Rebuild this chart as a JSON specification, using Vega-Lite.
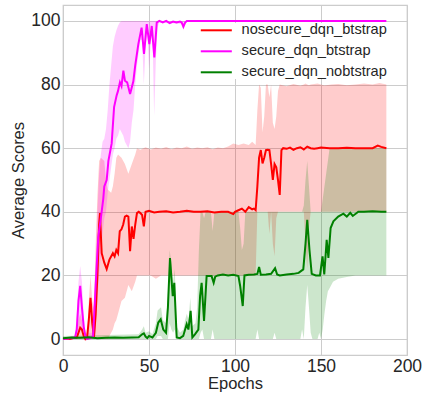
{
  "$schema": "https://vega.github.io/schema/vega-lite/v6.json",
  "width": 344,
  "height": 350,
  "autosize": {"type": "none"},
  "padding": {"left": 63, "top": 5, "right": 17, "bottom": 39},
  "config": {
    "font": "Liberation Sans",
    "view": {"stroke": "#cccccc", "strokeWidth": 1.25},
    "axis": {"domain": false, "ticks": false, "gridColor": "#cccccc", "gridWidth": 1, "labelFontSize": 17.5, "labelColor": "#262626", "titleFontSize": 16.5, "titleColor": "#262626", "titleFontWeight": "normal", "labelFlush": false},
    "legend": {"orient": "none", "legendX": 146, "legendY": 18, "symbolType": "M-3,0H3", "symbolSize": 107, "symbolStrokeWidth": 2, "labelFontSize": 14.6, "labelColor": "#262626", "labelOffset": 18, "rowPadding": 6, "fillColor": "white", "padding": 0, "labelLimit": 300}
  },
  "resolve": {"legend": {"color": "independent"}},
  "datasets": {
    "bands": [
      {"series":"nosecure_dqn_btstrap","epoch":0,"lo":0,"hi":0.5},{"series":"nosecure_dqn_btstrap","epoch":8,"lo":0,"hi":0.8},{"series":"nosecure_dqn_btstrap","epoch":9,"lo":0,"hi":6},{"series":"nosecure_dqn_btstrap","epoch":10,"lo":0,"hi":8},{"series":"nosecure_dqn_btstrap","epoch":11,"lo":0,"hi":6},{"series":"nosecure_dqn_btstrap","epoch":12,"lo":0,"hi":1.5},{"series":"nosecure_dqn_btstrap","epoch":14,"lo":0,"hi":1.5},{"series":"nosecure_dqn_btstrap","epoch":15,"lo":0,"hi":12},{"series":"nosecure_dqn_btstrap","epoch":16,"lo":0,"hi":20},{"series":"nosecure_dqn_btstrap","epoch":17,"lo":0,"hi":12},{"series":"nosecure_dqn_btstrap","epoch":18,"lo":0,"hi":10},{"series":"nosecure_dqn_btstrap","epoch":19,"lo":0,"hi":30},{"series":"nosecure_dqn_btstrap","epoch":20,"lo":0,"hi":45},{"series":"nosecure_dqn_btstrap","epoch":21,"lo":0,"hi":56},{"series":"nosecure_dqn_btstrap","epoch":22,"lo":0,"hi":57},{"series":"nosecure_dqn_btstrap","epoch":24,"lo":0,"hi":56},{"series":"nosecure_dqn_btstrap","epoch":25,"lo":0,"hi":50},{"series":"nosecure_dqn_btstrap","epoch":26,"lo":0,"hi":47},{"series":"nosecure_dqn_btstrap","epoch":28,"lo":2,"hi":46},{"series":"nosecure_dqn_btstrap","epoch":29,"lo":3,"hi":48},{"series":"nosecure_dqn_btstrap","epoch":30,"lo":5,"hi":52},{"series":"nosecure_dqn_btstrap","epoch":31,"lo":6,"hi":57},{"series":"nosecure_dqn_btstrap","epoch":32,"lo":8,"hi":58},{"series":"nosecure_dqn_btstrap","epoch":34,"lo":12,"hi":57},{"series":"nosecure_dqn_btstrap","epoch":36,"lo":13,"hi":55},{"series":"nosecure_dqn_btstrap","epoch":38,"lo":17,"hi":52},{"series":"nosecure_dqn_btstrap","epoch":40,"lo":15,"hi":55},{"series":"nosecure_dqn_btstrap","epoch":42,"lo":18,"hi":58},{"series":"nosecure_dqn_btstrap","epoch":43,"lo":20,"hi":60},{"series":"nosecure_dqn_btstrap","epoch":45,"lo":20,"hi":59.5},{"series":"nosecure_dqn_btstrap","epoch":48,"lo":20,"hi":60.3},{"series":"nosecure_dqn_btstrap","epoch":51,"lo":20,"hi":59.6},{"series":"nosecure_dqn_btstrap","epoch":54,"lo":19,"hi":60.2},{"series":"nosecure_dqn_btstrap","epoch":57,"lo":20,"hi":59.8},{"series":"nosecure_dqn_btstrap","epoch":60,"lo":20,"hi":60.4},{"series":"nosecure_dqn_btstrap","epoch":63,"lo":20,"hi":59.7},{"series":"nosecure_dqn_btstrap","epoch":66,"lo":20,"hi":60.2},{"series":"nosecure_dqn_btstrap","epoch":69,"lo":20,"hi":60},{"series":"nosecure_dqn_btstrap","epoch":72,"lo":20,"hi":60.5},{"series":"nosecure_dqn_btstrap","epoch":75,"lo":20,"hi":59.8},{"series":"nosecure_dqn_btstrap","epoch":78,"lo":20,"hi":60.2},{"series":"nosecure_dqn_btstrap","epoch":81,"lo":20,"hi":60},{"series":"nosecure_dqn_btstrap","epoch":84,"lo":20,"hi":60.3},{"series":"nosecure_dqn_btstrap","epoch":87,"lo":20,"hi":59.7},{"series":"nosecure_dqn_btstrap","epoch":90,"lo":20,"hi":60.2},{"series":"nosecure_dqn_btstrap","epoch":93,"lo":20,"hi":60},{"series":"nosecure_dqn_btstrap","epoch":96,"lo":20,"hi":60.5},{"series":"nosecure_dqn_btstrap","epoch":99,"lo":20,"hi":61.5},{"series":"nosecure_dqn_btstrap","epoch":102,"lo":20,"hi":61},{"series":"nosecure_dqn_btstrap","epoch":105,"lo":20,"hi":61.5},{"series":"nosecure_dqn_btstrap","epoch":108,"lo":20,"hi":61},{"series":"nosecure_dqn_btstrap","epoch":110,"lo":20,"hi":62},{"series":"nosecure_dqn_btstrap","epoch":112,"lo":20,"hi":61},{"series":"nosecure_dqn_btstrap","epoch":113,"lo":40,"hi":72},{"series":"nosecure_dqn_btstrap","epoch":114,"lo":40,"hi":80},{"series":"nosecure_dqn_btstrap","epoch":115,"lo":40,"hi":79},{"series":"nosecure_dqn_btstrap","epoch":116,"lo":40,"hi":65},{"series":"nosecure_dqn_btstrap","epoch":117,"lo":40,"hi":70},{"series":"nosecure_dqn_btstrap","epoch":118,"lo":40,"hi":80},{"series":"nosecure_dqn_btstrap","epoch":119,"lo":40,"hi":80},{"series":"nosecure_dqn_btstrap","epoch":120,"lo":33,"hi":76},{"series":"nosecure_dqn_btstrap","epoch":121,"lo":40,"hi":80},{"series":"nosecure_dqn_btstrap","epoch":122,"lo":30,"hi":68},{"series":"nosecure_dqn_btstrap","epoch":123,"lo":26,"hi":66},{"series":"nosecure_dqn_btstrap","epoch":124,"lo":38,"hi":70},{"series":"nosecure_dqn_btstrap","epoch":125,"lo":40,"hi":78},{"series":"nosecure_dqn_btstrap","epoch":126,"lo":40,"hi":80},{"series":"nosecure_dqn_btstrap","epoch":130,"lo":40,"hi":79.5},{"series":"nosecure_dqn_btstrap","epoch":134,"lo":40,"hi":80.2},{"series":"nosecure_dqn_btstrap","epoch":138,"lo":40,"hi":79.6},{"series":"nosecure_dqn_btstrap","epoch":140,"lo":40,"hi":80},{"series":"nosecure_dqn_btstrap","epoch":141,"lo":30,"hi":80.3},{"series":"nosecure_dqn_btstrap","epoch":142,"lo":22,"hi":80},{"series":"nosecure_dqn_btstrap","epoch":143,"lo":35,"hi":79.8},{"series":"nosecure_dqn_btstrap","epoch":144,"lo":40,"hi":80},{"series":"nosecure_dqn_btstrap","epoch":148,"lo":40,"hi":80.3},{"series":"nosecure_dqn_btstrap","epoch":152,"lo":40,"hi":79.7},{"series":"nosecure_dqn_btstrap","epoch":156,"lo":40,"hi":80},{"series":"nosecure_dqn_btstrap","epoch":160,"lo":40,"hi":80.2},{"series":"nosecure_dqn_btstrap","epoch":165,"lo":40,"hi":79.8},{"series":"nosecure_dqn_btstrap","epoch":170,"lo":40,"hi":80},{"series":"nosecure_dqn_btstrap","epoch":175,"lo":40,"hi":80.3},{"series":"nosecure_dqn_btstrap","epoch":180,"lo":40,"hi":80},{"series":"nosecure_dqn_btstrap","epoch":184,"lo":40,"hi":80.5},{"series":"nosecure_dqn_btstrap","epoch":188,"lo":40,"hi":80},
      {"series":"secure_dqn_btstrap","epoch":0,"lo":0,"hi":0.5},{"series":"secure_dqn_btstrap","epoch":7,"lo":0,"hi":1},{"series":"secure_dqn_btstrap","epoch":8,"lo":0.5,"hi":8},{"series":"secure_dqn_btstrap","epoch":9,"lo":2,"hi":18},{"series":"secure_dqn_btstrap","epoch":10,"lo":5,"hi":23},{"series":"secure_dqn_btstrap","epoch":11,"lo":3,"hi":18},{"series":"secure_dqn_btstrap","epoch":12,"lo":0.5,"hi":8},{"series":"secure_dqn_btstrap","epoch":13,"lo":0,"hi":2},{"series":"secure_dqn_btstrap","epoch":17,"lo":0,"hi":2},{"series":"secure_dqn_btstrap","epoch":18,"lo":0,"hi":8},{"series":"secure_dqn_btstrap","epoch":19,"lo":3,"hi":25},{"series":"secure_dqn_btstrap","epoch":20,"lo":12,"hi":40},{"series":"secure_dqn_btstrap","epoch":21,"lo":20,"hi":52},{"series":"secure_dqn_btstrap","epoch":22,"lo":26,"hi":58},{"series":"secure_dqn_btstrap","epoch":23,"lo":33,"hi":62},{"series":"secure_dqn_btstrap","epoch":24,"lo":38,"hi":63},{"series":"secure_dqn_btstrap","epoch":25,"lo":40,"hi":66},{"series":"secure_dqn_btstrap","epoch":26,"lo":46,"hi":72},{"series":"secure_dqn_btstrap","epoch":27,"lo":50,"hi":80},{"series":"secure_dqn_btstrap","epoch":28,"lo":54,"hi":86},{"series":"secure_dqn_btstrap","epoch":29,"lo":58,"hi":92},{"series":"secure_dqn_btstrap","epoch":30,"lo":60,"hi":95},{"series":"secure_dqn_btstrap","epoch":31,"lo":63,"hi":97},{"series":"secure_dqn_btstrap","epoch":32,"lo":64,"hi":98.5},{"series":"secure_dqn_btstrap","epoch":33,"lo":66,"hi":99.5},{"series":"secure_dqn_btstrap","epoch":34,"lo":65,"hi":100},{"series":"secure_dqn_btstrap","epoch":35,"lo":64,"hi":100},{"series":"secure_dqn_btstrap","epoch":36,"lo":62,"hi":100},{"series":"secure_dqn_btstrap","epoch":37,"lo":61,"hi":100},{"series":"secure_dqn_btstrap","epoch":38,"lo":60,"hi":100},{"series":"secure_dqn_btstrap","epoch":39,"lo":62,"hi":100},{"series":"secure_dqn_btstrap","epoch":40,"lo":68,"hi":100},{"series":"secure_dqn_btstrap","epoch":41,"lo":72,"hi":100},{"series":"secure_dqn_btstrap","epoch":42,"lo":80,"hi":100},{"series":"secure_dqn_btstrap","epoch":43,"lo":86,"hi":100},{"series":"secure_dqn_btstrap","epoch":44,"lo":90,"hi":100},{"series":"secure_dqn_btstrap","epoch":45,"lo":94,"hi":100},{"series":"secure_dqn_btstrap","epoch":46,"lo":94,"hi":100},{"series":"secure_dqn_btstrap","epoch":47,"lo":80,"hi":100},{"series":"secure_dqn_btstrap","epoch":48,"lo":92,"hi":100},{"series":"secure_dqn_btstrap","epoch":49,"lo":97,"hi":100},{"series":"secure_dqn_btstrap","epoch":50,"lo":85,"hi":100},{"series":"secure_dqn_btstrap","epoch":51,"lo":93,"hi":100},{"series":"secure_dqn_btstrap","epoch":52,"lo":97,"hi":100},{"series":"secure_dqn_btstrap","epoch":53,"lo":70,"hi":100},{"series":"secure_dqn_btstrap","epoch":54,"lo":88,"hi":100},{"series":"secure_dqn_btstrap","epoch":55,"lo":98,"hi":100},{"series":"secure_dqn_btstrap","epoch":56,"lo":99.5,"hi":100},{"series":"secure_dqn_btstrap","epoch":69,"lo":99,"hi":100},{"series":"secure_dqn_btstrap","epoch":70,"lo":97,"hi":100},{"series":"secure_dqn_btstrap","epoch":71,"lo":99,"hi":100},{"series":"secure_dqn_btstrap","epoch":72,"lo":100,"hi":100},{"series":"secure_dqn_btstrap","epoch":188,"lo":100,"hi":100},
      {"series":"secure_dqn_nobtstrap","epoch":0,"lo":0,"hi":1},{"series":"secure_dqn_nobtstrap","epoch":44,"lo":0,"hi":1.5},{"series":"secure_dqn_nobtstrap","epoch":46,"lo":0,"hi":3},{"series":"secure_dqn_nobtstrap","epoch":47,"lo":0,"hi":4},{"series":"secure_dqn_nobtstrap","epoch":48,"lo":0,"hi":2},{"series":"secure_dqn_nobtstrap","epoch":50,"lo":0,"hi":2.5},{"series":"secure_dqn_nobtstrap","epoch":52,"lo":0,"hi":1.5},{"series":"secure_dqn_nobtstrap","epoch":54,"lo":0,"hi":5},{"series":"secure_dqn_nobtstrap","epoch":55,"lo":1,"hi":9},{"series":"secure_dqn_nobtstrap","epoch":57,"lo":1,"hi":10},{"series":"secure_dqn_nobtstrap","epoch":58,"lo":0,"hi":6},{"series":"secure_dqn_nobtstrap","epoch":60,"lo":0,"hi":5},{"series":"secure_dqn_nobtstrap","epoch":61,"lo":0,"hi":15},{"series":"secure_dqn_nobtstrap","epoch":62,"lo":5,"hi":28},{"series":"secure_dqn_nobtstrap","epoch":63,"lo":3,"hi":24},{"series":"secure_dqn_nobtstrap","epoch":64,"lo":2,"hi":18},{"series":"secure_dqn_nobtstrap","epoch":65,"lo":3,"hi":22},{"series":"secure_dqn_nobtstrap","epoch":66,"lo":0,"hi":4},{"series":"secure_dqn_nobtstrap","epoch":68,"lo":0,"hi":2},{"series":"secure_dqn_nobtstrap","epoch":70,"lo":0,"hi":3},{"series":"secure_dqn_nobtstrap","epoch":71,"lo":0,"hi":6},{"series":"secure_dqn_nobtstrap","epoch":72,"lo":0,"hi":8},{"series":"secure_dqn_nobtstrap","epoch":73,"lo":0,"hi":6},{"series":"secure_dqn_nobtstrap","epoch":74,"lo":0,"hi":13},{"series":"secure_dqn_nobtstrap","epoch":75,"lo":0,"hi":4},{"series":"secure_dqn_nobtstrap","epoch":77,"lo":0,"hi":5},{"series":"secure_dqn_nobtstrap","epoch":78,"lo":0,"hi":10},{"series":"secure_dqn_nobtstrap","epoch":79,"lo":0,"hi":28},{"series":"secure_dqn_nobtstrap","epoch":80,"lo":2,"hi":40},{"series":"secure_dqn_nobtstrap","epoch":81,"lo":3,"hi":40},{"series":"secure_dqn_nobtstrap","epoch":82,"lo":0,"hi":38},{"series":"secure_dqn_nobtstrap","epoch":83,"lo":0,"hi":40},{"series":"secure_dqn_nobtstrap","epoch":86,"lo":0,"hi":40},{"series":"secure_dqn_nobtstrap","epoch":87,"lo":3,"hi":34},{"series":"secure_dqn_nobtstrap","epoch":88,"lo":0,"hi":40},{"series":"secure_dqn_nobtstrap","epoch":102,"lo":0,"hi":40},{"series":"secure_dqn_nobtstrap","epoch":103,"lo":0,"hi":35},{"series":"secure_dqn_nobtstrap","epoch":104,"lo":0,"hi":28},{"series":"secure_dqn_nobtstrap","epoch":105,"lo":0,"hi":30},{"series":"secure_dqn_nobtstrap","epoch":106,"lo":0,"hi":40},{"series":"secure_dqn_nobtstrap","epoch":112,"lo":0,"hi":40},{"series":"secure_dqn_nobtstrap","epoch":113,"lo":3,"hi":40},{"series":"secure_dqn_nobtstrap","epoch":114,"lo":0,"hi":40},{"series":"secure_dqn_nobtstrap","epoch":122,"lo":0,"hi":40},{"series":"secure_dqn_nobtstrap","epoch":123,"lo":2,"hi":40},{"series":"secure_dqn_nobtstrap","epoch":124,"lo":0,"hi":40},{"series":"secure_dqn_nobtstrap","epoch":138,"lo":0,"hi":40},{"series":"secure_dqn_nobtstrap","epoch":139,"lo":3,"hi":40},{"series":"secure_dqn_nobtstrap","epoch":140,"lo":0,"hi":42},{"series":"secure_dqn_nobtstrap","epoch":141,"lo":10,"hi":50},{"series":"secure_dqn_nobtstrap","epoch":142,"lo":17,"hi":56},{"series":"secure_dqn_nobtstrap","epoch":143,"lo":10,"hi":48},{"series":"secure_dqn_nobtstrap","epoch":144,"lo":2,"hi":40},{"series":"secure_dqn_nobtstrap","epoch":145,"lo":0,"hi":40},{"series":"secure_dqn_nobtstrap","epoch":148,"lo":0,"hi":40},{"series":"secure_dqn_nobtstrap","epoch":149,"lo":2,"hi":40},{"series":"secure_dqn_nobtstrap","epoch":150,"lo":0,"hi":40},{"series":"secure_dqn_nobtstrap","epoch":151,"lo":3,"hi":44},{"series":"secure_dqn_nobtstrap","epoch":152,"lo":8,"hi":48},{"series":"secure_dqn_nobtstrap","epoch":153,"lo":12,"hi":52},{"series":"secure_dqn_nobtstrap","epoch":154,"lo":15,"hi":56},{"series":"secure_dqn_nobtstrap","epoch":155,"lo":16,"hi":60},{"series":"secure_dqn_nobtstrap","epoch":157,"lo":18,"hi":60},{"series":"secure_dqn_nobtstrap","epoch":160,"lo":19,"hi":60},{"series":"secure_dqn_nobtstrap","epoch":165,"lo":19.5,"hi":60},{"series":"secure_dqn_nobtstrap","epoch":170,"lo":20,"hi":60},{"series":"secure_dqn_nobtstrap","epoch":188,"lo":20,"hi":60}
    ],
    "lines": [
      {"series":"nosecure_dqn_btstrap","epoch":0,"score":0},{"series":"nosecure_dqn_btstrap","epoch":2,"score":0.2},{"series":"nosecure_dqn_btstrap","epoch":4,"score":0},{"series":"nosecure_dqn_btstrap","epoch":6,"score":0.3},{"series":"nosecure_dqn_btstrap","epoch":8,"score":0.5},{"series":"nosecure_dqn_btstrap","epoch":9,"score":2},{"series":"nosecure_dqn_btstrap","epoch":10,"score":3.6},{"series":"nosecure_dqn_btstrap","epoch":11,"score":3},{"series":"nosecure_dqn_btstrap","epoch":12,"score":1},{"series":"nosecure_dqn_btstrap","epoch":13,"score":0},{"series":"nosecure_dqn_btstrap","epoch":14,"score":0.5},{"series":"nosecure_dqn_btstrap","epoch":15,"score":6},{"series":"nosecure_dqn_btstrap","epoch":16,"score":13},{"series":"nosecure_dqn_btstrap","epoch":17,"score":5},{"series":"nosecure_dqn_btstrap","epoch":18,"score":0.5},{"series":"nosecure_dqn_btstrap","epoch":19,"score":8},{"series":"nosecure_dqn_btstrap","epoch":20,"score":20},{"series":"nosecure_dqn_btstrap","epoch":21,"score":36},{"series":"nosecure_dqn_btstrap","epoch":21.5,"score":39.6},{"series":"nosecure_dqn_btstrap","epoch":22,"score":33},{"series":"nosecure_dqn_btstrap","epoch":22.5,"score":27},{"series":"nosecure_dqn_btstrap","epoch":24,"score":24},{"series":"nosecure_dqn_btstrap","epoch":25.4,"score":22},{"series":"nosecure_dqn_btstrap","epoch":27,"score":25},{"series":"nosecure_dqn_btstrap","epoch":29,"score":27},{"series":"nosecure_dqn_btstrap","epoch":30,"score":26},{"series":"nosecure_dqn_btstrap","epoch":31,"score":28},{"series":"nosecure_dqn_btstrap","epoch":32,"score":27},{"series":"nosecure_dqn_btstrap","epoch":33,"score":33.9},{"series":"nosecure_dqn_btstrap","epoch":34,"score":34.5},{"series":"nosecure_dqn_btstrap","epoch":35,"score":36},{"series":"nosecure_dqn_btstrap","epoch":36,"score":38.5},{"series":"nosecure_dqn_btstrap","epoch":37,"score":38.8},{"series":"nosecure_dqn_btstrap","epoch":38,"score":38.5},{"series":"nosecure_dqn_btstrap","epoch":39,"score":27.6},{"series":"nosecure_dqn_btstrap","epoch":40,"score":35.4},{"series":"nosecure_dqn_btstrap","epoch":41,"score":31.5},{"series":"nosecure_dqn_btstrap","epoch":42,"score":36},{"series":"nosecure_dqn_btstrap","epoch":43,"score":39.6},{"series":"nosecure_dqn_btstrap","epoch":44,"score":40},{"series":"nosecure_dqn_btstrap","epoch":45,"score":39.6},{"series":"nosecure_dqn_btstrap","epoch":46,"score":39},{"series":"nosecure_dqn_btstrap","epoch":47,"score":35.4},{"series":"nosecure_dqn_btstrap","epoch":48,"score":40},{"series":"nosecure_dqn_btstrap","epoch":50,"score":40.3},{"series":"nosecure_dqn_btstrap","epoch":53,"score":39.8},{"series":"nosecure_dqn_btstrap","epoch":56,"score":40},{"series":"nosecure_dqn_btstrap","epoch":60,"score":40.2},{"series":"nosecure_dqn_btstrap","epoch":64,"score":39.8},{"series":"nosecure_dqn_btstrap","epoch":68,"score":40},{"series":"nosecure_dqn_btstrap","epoch":72,"score":40.3},{"series":"nosecure_dqn_btstrap","epoch":76,"score":40},{"series":"nosecure_dqn_btstrap","epoch":80,"score":40},{"series":"nosecure_dqn_btstrap","epoch":84,"score":40.2},{"series":"nosecure_dqn_btstrap","epoch":88,"score":39.8},{"series":"nosecure_dqn_btstrap","epoch":92,"score":40},{"series":"nosecure_dqn_btstrap","epoch":96,"score":40},{"series":"nosecure_dqn_btstrap","epoch":99,"score":39.3},{"series":"nosecure_dqn_btstrap","epoch":100,"score":40},{"series":"nosecure_dqn_btstrap","epoch":102,"score":40.5},{"series":"nosecure_dqn_btstrap","epoch":104,"score":41},{"series":"nosecure_dqn_btstrap","epoch":106,"score":40},{"series":"nosecure_dqn_btstrap","epoch":108,"score":41.5},{"series":"nosecure_dqn_btstrap","epoch":110,"score":40.8},{"series":"nosecure_dqn_btstrap","epoch":111,"score":41},{"series":"nosecure_dqn_btstrap","epoch":112,"score":40.5},{"series":"nosecure_dqn_btstrap","epoch":113,"score":48},{"series":"nosecure_dqn_btstrap","epoch":114,"score":57},{"series":"nosecure_dqn_btstrap","epoch":115,"score":59.4},{"series":"nosecure_dqn_btstrap","epoch":116,"score":55.2},{"series":"nosecure_dqn_btstrap","epoch":117,"score":57},{"series":"nosecure_dqn_btstrap","epoch":118,"score":59.4},{"series":"nosecure_dqn_btstrap","epoch":119,"score":59.5},{"series":"nosecure_dqn_btstrap","epoch":120,"score":59.4},{"series":"nosecure_dqn_btstrap","epoch":121,"score":55},{"series":"nosecure_dqn_btstrap","epoch":122,"score":50},{"series":"nosecure_dqn_btstrap","epoch":123,"score":55},{"series":"nosecure_dqn_btstrap","epoch":124,"score":54},{"series":"nosecure_dqn_btstrap","epoch":125,"score":50},{"series":"nosecure_dqn_btstrap","epoch":126,"score":45.3},{"series":"nosecure_dqn_btstrap","epoch":127,"score":59.4},{"series":"nosecure_dqn_btstrap","epoch":128,"score":60},{"series":"nosecure_dqn_btstrap","epoch":130,"score":59.8},{"series":"nosecure_dqn_btstrap","epoch":132,"score":60.2},{"series":"nosecure_dqn_btstrap","epoch":134,"score":59.5},{"series":"nosecure_dqn_btstrap","epoch":136,"score":60},{"series":"nosecure_dqn_btstrap","epoch":138,"score":60.3},{"series":"nosecure_dqn_btstrap","epoch":140,"score":59.6},{"series":"nosecure_dqn_btstrap","epoch":142,"score":60.5},{"series":"nosecure_dqn_btstrap","epoch":144,"score":60},{"series":"nosecure_dqn_btstrap","epoch":146,"score":59.8},{"series":"nosecure_dqn_btstrap","epoch":148,"score":60},{"series":"nosecure_dqn_btstrap","epoch":150,"score":60.2},{"series":"nosecure_dqn_btstrap","epoch":155,"score":60},{"series":"nosecure_dqn_btstrap","epoch":160,"score":60},{"series":"nosecure_dqn_btstrap","epoch":165,"score":60.1},{"series":"nosecure_dqn_btstrap","epoch":170,"score":60},{"series":"nosecure_dqn_btstrap","epoch":175,"score":60},{"series":"nosecure_dqn_btstrap","epoch":180,"score":60},{"series":"nosecure_dqn_btstrap","epoch":183,"score":60.8},{"series":"nosecure_dqn_btstrap","epoch":185,"score":60.4},{"series":"nosecure_dqn_btstrap","epoch":188,"score":60},
      {"series":"secure_dqn_btstrap","epoch":0,"score":0},{"series":"secure_dqn_btstrap","epoch":4,"score":0.3},{"series":"secure_dqn_btstrap","epoch":7,"score":0.5},{"series":"secure_dqn_btstrap","epoch":8,"score":3},{"series":"secure_dqn_btstrap","epoch":9,"score":12},{"series":"secure_dqn_btstrap","epoch":10,"score":16.7},{"series":"secure_dqn_btstrap","epoch":11,"score":10},{"series":"secure_dqn_btstrap","epoch":12,"score":4},{"series":"secure_dqn_btstrap","epoch":13,"score":1},{"series":"secure_dqn_btstrap","epoch":14,"score":0},{"series":"secure_dqn_btstrap","epoch":16,"score":0.3},{"series":"secure_dqn_btstrap","epoch":17.5,"score":1},{"series":"secure_dqn_btstrap","epoch":19,"score":17},{"series":"secure_dqn_btstrap","epoch":20.5,"score":32},{"series":"secure_dqn_btstrap","epoch":22,"score":38},{"series":"secure_dqn_btstrap","epoch":23.4,"score":44},{"series":"secure_dqn_btstrap","epoch":24,"score":48},{"series":"secure_dqn_btstrap","epoch":25.4,"score":50},{"series":"secure_dqn_btstrap","epoch":26.4,"score":56},{"series":"secure_dqn_btstrap","epoch":28.3,"score":61.5},{"series":"secure_dqn_btstrap","epoch":29.7,"score":72.9},{"series":"secure_dqn_btstrap","epoch":31.2,"score":76.6},{"series":"secure_dqn_btstrap","epoch":32,"score":78},{"series":"secure_dqn_btstrap","epoch":33.1,"score":80.7},{"series":"secure_dqn_btstrap","epoch":34,"score":79.5},{"series":"secure_dqn_btstrap","epoch":35.1,"score":84.4},{"series":"secure_dqn_btstrap","epoch":36,"score":81.2},{"series":"secure_dqn_btstrap","epoch":37.3,"score":80.7},{"series":"secure_dqn_btstrap","epoch":39,"score":77},{"series":"secure_dqn_btstrap","epoch":40.9,"score":81},{"series":"secure_dqn_btstrap","epoch":42,"score":86},{"series":"secure_dqn_btstrap","epoch":43.8,"score":92.7},{"series":"secure_dqn_btstrap","epoch":45.7,"score":97.9},{"series":"secure_dqn_btstrap","epoch":47.1,"score":89.6},{"series":"secure_dqn_btstrap","epoch":48.7,"score":99},{"series":"secure_dqn_btstrap","epoch":50.2,"score":92.7},{"series":"secure_dqn_btstrap","epoch":51.6,"score":98.4},{"series":"secure_dqn_btstrap","epoch":53.1,"score":88.5},{"series":"secure_dqn_btstrap","epoch":54.5,"score":99.5},{"series":"secure_dqn_btstrap","epoch":56,"score":100},{"series":"secure_dqn_btstrap","epoch":58,"score":99.5},{"series":"secure_dqn_btstrap","epoch":60,"score":100},{"series":"secure_dqn_btstrap","epoch":62,"score":99.3},{"series":"secure_dqn_btstrap","epoch":64,"score":99.8},{"series":"secure_dqn_btstrap","epoch":66,"score":99.5},{"series":"secure_dqn_btstrap","epoch":68,"score":99.8},{"series":"secure_dqn_btstrap","epoch":69,"score":99.5},{"series":"secure_dqn_btstrap","epoch":70,"score":98.2},{"series":"secure_dqn_btstrap","epoch":71,"score":99.5},{"series":"secure_dqn_btstrap","epoch":72,"score":100},{"series":"secure_dqn_btstrap","epoch":188,"score":100},
      {"series":"secure_dqn_nobtstrap","epoch":0,"score":0.3},{"series":"secure_dqn_nobtstrap","epoch":5,"score":0.5},{"series":"secure_dqn_nobtstrap","epoch":10,"score":0.4},{"series":"secure_dqn_nobtstrap","epoch":15,"score":0.6},{"series":"secure_dqn_nobtstrap","epoch":20,"score":0.3},{"series":"secure_dqn_nobtstrap","epoch":25,"score":0.4},{"series":"secure_dqn_nobtstrap","epoch":30,"score":0.5},{"series":"secure_dqn_nobtstrap","epoch":35,"score":0.4},{"series":"secure_dqn_nobtstrap","epoch":40,"score":0.5},{"series":"secure_dqn_nobtstrap","epoch":44,"score":0.6},{"series":"secure_dqn_nobtstrap","epoch":46,"score":1.5},{"series":"secure_dqn_nobtstrap","epoch":47,"score":1.8},{"series":"secure_dqn_nobtstrap","epoch":48,"score":0.8},{"series":"secure_dqn_nobtstrap","epoch":49,"score":0.3},{"series":"secure_dqn_nobtstrap","epoch":50,"score":1},{"series":"secure_dqn_nobtstrap","epoch":52,"score":0.5},{"series":"secure_dqn_nobtstrap","epoch":54,"score":2},{"series":"secure_dqn_nobtstrap","epoch":55.4,"score":5.2},{"series":"secure_dqn_nobtstrap","epoch":56.8,"score":6.2},{"series":"secure_dqn_nobtstrap","epoch":58.3,"score":3},{"series":"secure_dqn_nobtstrap","epoch":59.9,"score":2},{"series":"secure_dqn_nobtstrap","epoch":61,"score":10},{"series":"secure_dqn_nobtstrap","epoch":62.2,"score":25.5},{"series":"secure_dqn_nobtstrap","epoch":63.8,"score":13.5},{"series":"secure_dqn_nobtstrap","epoch":64.7,"score":17.7},{"series":"secure_dqn_nobtstrap","epoch":66.1,"score":0.5},{"series":"secure_dqn_nobtstrap","epoch":68,"score":0.3},{"series":"secure_dqn_nobtstrap","epoch":69.9,"score":1},{"series":"secure_dqn_nobtstrap","epoch":71.9,"score":4.7},{"series":"secure_dqn_nobtstrap","epoch":72.9,"score":3},{"series":"secure_dqn_nobtstrap","epoch":74.2,"score":8.9},{"series":"secure_dqn_nobtstrap","epoch":75.2,"score":0.5},{"series":"secure_dqn_nobtstrap","epoch":76.7,"score":1.5},{"series":"secure_dqn_nobtstrap","epoch":78.7,"score":3},{"series":"secure_dqn_nobtstrap","epoch":79.7,"score":13.5},{"series":"secure_dqn_nobtstrap","epoch":80.6,"score":17.7},{"series":"secure_dqn_nobtstrap","epoch":82,"score":5.7},{"series":"secure_dqn_nobtstrap","epoch":83.5,"score":19.8},{"series":"secure_dqn_nobtstrap","epoch":86.4,"score":19.8},{"series":"secure_dqn_nobtstrap","epoch":87.6,"score":17.7},{"series":"secure_dqn_nobtstrap","epoch":88.5,"score":19.6},{"series":"secure_dqn_nobtstrap","epoch":90,"score":20},{"series":"secure_dqn_nobtstrap","epoch":93,"score":20.3},{"series":"secure_dqn_nobtstrap","epoch":96,"score":20},{"series":"secure_dqn_nobtstrap","epoch":99,"score":20.2},{"series":"secure_dqn_nobtstrap","epoch":102,"score":19.8},{"series":"secure_dqn_nobtstrap","epoch":103,"score":16.7},{"series":"secure_dqn_nobtstrap","epoch":104.5,"score":10.4},{"series":"secure_dqn_nobtstrap","epoch":105.5,"score":20},{"series":"secure_dqn_nobtstrap","epoch":108,"score":20.2},{"series":"secure_dqn_nobtstrap","epoch":111,"score":20.3},{"series":"secure_dqn_nobtstrap","epoch":113,"score":20.5},{"series":"secure_dqn_nobtstrap","epoch":114,"score":22.7},{"series":"secure_dqn_nobtstrap","epoch":115,"score":20.2},{"series":"secure_dqn_nobtstrap","epoch":118,"score":20.3},{"series":"secure_dqn_nobtstrap","epoch":121,"score":20.5},{"series":"secure_dqn_nobtstrap","epoch":123.3,"score":22.3},{"series":"secure_dqn_nobtstrap","epoch":124.5,"score":20.3},{"series":"secure_dqn_nobtstrap","epoch":126,"score":20},{"series":"secure_dqn_nobtstrap","epoch":130,"score":20.3},{"series":"secure_dqn_nobtstrap","epoch":134,"score":20.5},{"series":"secure_dqn_nobtstrap","epoch":137,"score":20.8},{"series":"secure_dqn_nobtstrap","epoch":139.7,"score":21.9},{"series":"secure_dqn_nobtstrap","epoch":141,"score":30},{"series":"secure_dqn_nobtstrap","epoch":142,"score":37.5},{"series":"secure_dqn_nobtstrap","epoch":143.3,"score":28},{"series":"secure_dqn_nobtstrap","epoch":144.6,"score":20.5},{"series":"secure_dqn_nobtstrap","epoch":147,"score":20},{"series":"secure_dqn_nobtstrap","epoch":149.4,"score":20},{"series":"secure_dqn_nobtstrap","epoch":150.9,"score":26},{"series":"secure_dqn_nobtstrap","epoch":151.9,"score":20.3},{"series":"secure_dqn_nobtstrap","epoch":153.3,"score":31.2},{"series":"secure_dqn_nobtstrap","epoch":154.3,"score":25.5},{"series":"secure_dqn_nobtstrap","epoch":155.6,"score":34.9},{"series":"secure_dqn_nobtstrap","epoch":157.2,"score":37},{"series":"secure_dqn_nobtstrap","epoch":160,"score":38.5},{"series":"secure_dqn_nobtstrap","epoch":163,"score":39.4},{"series":"secure_dqn_nobtstrap","epoch":165,"score":38.5},{"series":"secure_dqn_nobtstrap","epoch":167,"score":39.7},{"series":"secure_dqn_nobtstrap","epoch":168.5,"score":38.7},{"series":"secure_dqn_nobtstrap","epoch":171.7,"score":40},{"series":"secure_dqn_nobtstrap","epoch":175,"score":40},{"series":"secure_dqn_nobtstrap","epoch":180,"score":40.2},{"series":"secure_dqn_nobtstrap","epoch":185,"score":40},{"series":"secure_dqn_nobtstrap","epoch":188,"score":40}
    ]
  },
  "layer": [
    {
      "data": {"name": "bands"},
      "mark": {"type": "area", "fillOpacity": 0.2, "interpolate": "linear"},
      "encoding": {
        "x": {"field": "epoch", "type": "quantitative", "scale": {"domain": [0, 200], "nice": false, "zero": false}, "axis": {"values": [0, 50, 100, 150, 200], "title": "Epochs", "labelPadding": 2, "titlePadding": 1}},
        "y": {"field": "lo", "type": "quantitative", "scale": {"domain": [-5, 105], "nice": false, "zero": false}, "axis": {"values": [0, 20, 40, 60, 80, 100], "title": "Average Scores", "labelPadding": 3, "titlePadding": 4}},
        "y2": {"field": "hi"},
        "color": {"field": "series", "type": "nominal", "scale": {"domain": ["nosecure_dqn_btstrap", "secure_dqn_btstrap", "secure_dqn_nobtstrap"], "range": ["#ff0000", "#ff00ff", "#008000"]}, "legend": null}
      }
    },
    {
      "data": {"name": "lines"},
      "mark": {"type": "line", "strokeWidth": 2},
      "encoding": {
        "x": {"field": "epoch", "type": "quantitative"},
        "y": {"field": "score", "type": "quantitative"},
        "color": {"field": "series", "type": "nominal", "legend": {"title": null}}
      }
    }
  ]
}
